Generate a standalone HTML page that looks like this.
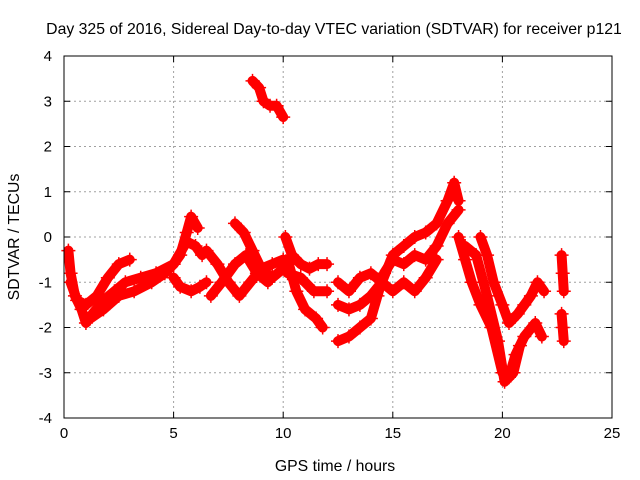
<!DOCTYPE html>
<html><head><meta charset="utf-8"><style>
body{margin:0;background:#fff;font-family:"Liberation Sans",sans-serif}
svg{display:block}
</style></head><body>
<svg id="chart" width="640" height="480" font-family="Liberation Sans, sans-serif" font-size="15">
<text x="334" y="34" text-anchor="middle" font-size="15.8">Day 325 of 2016, Sidereal Day-to-day VTEC variation (SDTVAR) for receiver p121</text>
<text x="335" y="471" text-anchor="middle" font-size="15.8">GPS time / hours</text>
<text x="19" y="237" text-anchor="middle" font-size="15.8" transform="rotate(-90 19 237)">SDTVAR / TECUs</text>
<g id="grid"></g>
<g id="ticks"></g>
<g id="marks"></g>
<rect x="64" y="56" width="548" height="362" fill="none" stroke="#000"/>
</svg>
<script>
const xTicks=[0,5,10,15,20,25];
const yTicks=[-4,-3,-2,-1,0,1,2,3,4];
const track1=[[0.2,-0.3],[0.3,-0.8],[0.5,-1.3],[0.8,-1.6],[1.0,-1.9],[1.3,-1.7],[1.8,-1.4],[2.3,-1.2],[2.8,-1.0],[3.5,-0.9],[4.2,-0.8],[5.0,-0.6],[5.3,-0.4],[5.6,0.1],[5.8,0.45],[6.1,0.2]];
const track2=[[0.3,-1.0],[0.6,-1.4],[1.0,-1.5],[1.5,-1.3],[2.0,-0.9],[2.5,-0.6],[3.0,-0.5]];
const track3=[[1.2,-1.8],[1.8,-1.6],[2.5,-1.3],[3.2,-1.2],[4.0,-1.0],[4.6,-0.8],[5.0,-0.6],[5.6,-0.1],[6.0,-0.2],[6.3,-0.4]];
const track4=[[5.0,-0.9],[5.3,-1.1],[5.8,-1.2],[6.2,-1.1],[6.5,-1.0]];
const track5=[[6.5,-0.3],[7.0,-0.6],[7.5,-1.0],[8.0,-1.3],[8.5,-1.0],[9.0,-0.7],[9.5,-0.6],[10.0,-0.5]];
const track6=[[6.7,-1.3],[7.2,-1.0],[7.8,-0.6],[8.3,-0.4],[8.8,-0.8],[9.3,-1.0]];
const track7=[[7.8,0.3],[8.2,0.1],[8.6,-0.3],[9.0,-0.7],[9.5,-0.9],[10.0,-0.7]];
const track8=[[8.6,3.45],[8.9,3.3],[9.1,3.0],[9.4,2.9],[9.7,2.9],[10.0,2.65]];
const track9=[[10.1,0.0],[10.4,-0.4],[10.8,-0.6],[11.2,-0.7],[11.6,-0.6],[12.0,-0.6]];
const track10=[[10.2,-0.5],[10.6,-1.2],[11.0,-1.6],[11.5,-1.8],[11.8,-2.0]];
const track11=[[10.2,-0.8],[10.8,-0.9],[11.4,-1.2],[12.0,-1.2]];
const track12=[[12.5,-1.5],[13.0,-1.6],[13.5,-1.5],[14.0,-1.3],[14.5,-1.0],[15.0,-0.4],[15.5,-0.2],[16.0,0.0],[16.5,0.1],[17.0,0.3],[17.5,0.8],[17.8,1.2],[18.0,0.8]];
const track13=[[12.5,-2.3],[13.0,-2.2],[13.5,-2.0],[14.0,-1.8],[14.3,-1.3],[14.6,-0.8],[15.0,-0.5],[15.5,-0.6],[16.0,-0.4],[16.5,-0.5],[17.0,-0.2],[17.5,0.3],[18.0,0.6]];
const track14=[[12.5,-1.0],[13.0,-1.2],[13.5,-0.9],[14.0,-0.8],[14.5,-1.0],[15.0,-1.2],[15.5,-1.0],[16.0,-1.2],[16.5,-0.9],[17.0,-0.5]];
const track15=[[18.0,0.0],[18.3,-0.5],[18.6,-1.0],[19.0,-1.5],[19.5,-2.0],[20.0,-3.0],[20.3,-3.1],[20.6,-2.6],[21.0,-2.2],[21.5,-1.9],[21.8,-2.2]];
const track16=[[18.3,-0.2],[18.8,-0.4],[19.3,-1.3],[19.8,-2.3],[20.1,-3.2],[20.5,-3.0],[20.8,-2.4]];
const track17=[[19.0,0.0],[19.3,-0.4],[19.6,-1.0],[20.0,-1.5],[20.3,-1.9],[20.7,-1.7],[21.0,-1.5],[21.3,-1.3],[21.6,-1.0],[21.9,-1.2]];
const track18=[[22.7,-0.4],[22.75,-0.8],[22.8,-1.2]];
const track19=[[22.7,-1.7],[22.75,-2.0],[22.8,-2.3]];
const tracks=[track1,track2,track3,track4,track5,track6,track7,track8,track9,track10,track11,track12,track13,track14,track15,track16,track17,track18,track19];

const NS='http://www.w3.org/2000/svg';
const X0=64,X1=612,Y0=418,Y1=56;
function xs(h){return X0+(h-0)/(25-0)*(X1-X0);}
function ys(v){return Y0-(v+4)/8*(Y0-Y1);}
function mk(tag,attrs,parent){const e=document.createElementNS(NS,tag);for(const k in attrs)e.setAttribute(k,attrs[k]);parent.appendChild(e);return e;}
const grid=document.getElementById('grid'),ticks=document.getElementById('ticks'),marks=document.getElementById('marks');
xTicks.forEach(t=>{
  const x=xs(t);
  if(t>0&&t<25){const g=mk('line',{x1:x,x2:x,y1:Y1,y2:Y0,stroke:'#a0a0a0','stroke-dasharray':'2,3'},grid);
  
  }
  mk('line',{x1:x,x2:x,y1:Y0,y2:Y0-6,stroke:'#000'},ticks);
  mk('line',{x1:x,x2:x,y1:Y1,y2:Y1+6,stroke:'#000'},ticks);
  const l=mk('text',{x:x,y:Y0+20,'text-anchor':'middle'},ticks);l.textContent=t;
  
  
});
yTicks.forEach(t=>{
  const y=ys(t);
  if(t>-4&&t<4){const g=mk('line',{x1:X0,x2:X1,y1:y,y2:y,stroke:'#a0a0a0','stroke-dasharray':'2,3'},grid);
  
  }
  mk('line',{x1:X0,x2:X0+6,y1:y,y2:y,stroke:'#000'},ticks);
  mk('line',{x1:X1,x2:X1-6,y1:y,y2:y,stroke:'#000'},ticks);
  const l=mk('text',{x:52,y:y+5,'text-anchor':'end'},ticks);l.textContent=t;
  
  
});
tracks.forEach((tr,i)=>{
  const pts=tr.map(p=>xs(p[0])+','+ys(p[1])).join(' ');
  const pl=mk('polyline',{points:pts,fill:'none',stroke:'#ff0000','stroke-width':10,'stroke-linejoin':'round','stroke-linecap':'round'},marks);
  
  
  tr.forEach(p=>{
    const x=xs(p[0]),y=ys(p[1]);
    const c=mk('path',{d:`M${x-7},${y}H${x+7}M${x},${y-7}V${y+7}`,stroke:'#ff0000','stroke-width':1.5},marks);
    
    
  });
});
</script>
</body></html>
